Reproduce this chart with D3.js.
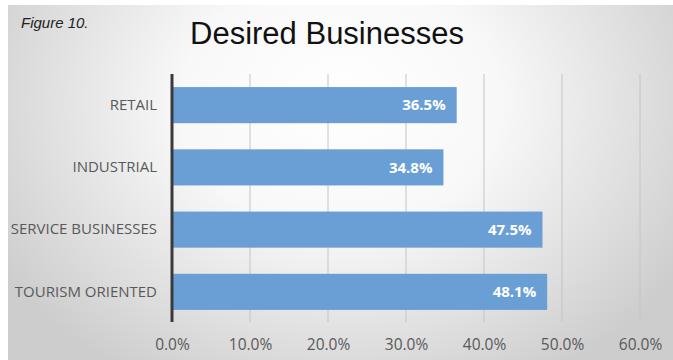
<!DOCTYPE html>
<html>
<head>
<meta charset="utf-8">
<script src="https://cdn.jsdelivr.net/npm/d3@7"></script>
<style>
  html, body { margin: 0; padding: 0; background: #fff; }
  svg { display: block; }
</style>
</head>
<body>
<svg id="chart" width="673" height="360"></svg>
<script>
// **** Data
const categories = ["RETAIL", "INDUSTRIAL", "SERVICE BUSINESSES", "TOURISM ORIENTED"];
const values = [36.5, 34.8, 47.5, 48.1];
const ticks = [0, 10, 20, 30, 40, 50, 60];

const width = 673;
const height = 360;
const svg = d3.select("#chart");

// **** Background gradient (white frame on left / top like the screenshot)
const defs = svg.append("defs");
const grad = defs.append("radialGradient")
  .attr("id", "bg")
  .attr("cx", "50%").attr("cy", "25%")
  .attr("r", "60%")
  .attr("gradientTransform", "translate(0,-0.1) scale(1,1.5)");
grad.append("stop").attr("offset", "0%").attr("stop-color", "#ffffff");
grad.append("stop").attr("offset", "40%").attr("stop-color", "#f8f8f8");
grad.append("stop").attr("offset", "100%").attr("stop-color", "#cdcdcd");

svg.append("rect")
  .attr("width", width).attr("height", height)
  .attr("fill", "#ffffff");
svg.append("rect")
  .attr("x", 8).attr("y", 5)
  .attr("width", width - 8).attr("height", height - 5)
  .attr("fill", "url(#bg)");

// **** Scales
const x = d3.scaleLinear().domain([0, 60]).range([172, 640]);
const y = d3.scaleBand()
  .domain(categories)
  .range([74, 323])
  .paddingInner(0.42)
  .paddingOuter(0.21);

// **** Gridlines
svg.append("g")
  .selectAll("line")
  .data(ticks.slice(1))
  .join("line")
  .attr("x1", d => x(d)).attr("x2", d => x(d))
  .attr("y1", 74).attr("y2", 322)
  .attr("stroke", "#c4c4c4")
  .attr("stroke-width", 1);

// **** Bars
svg.append("g")
  .selectAll("rect")
  .data(values)
  .join("rect")
  .attr("x", x(0))
  .attr("y", (d, i) => y(categories[i]))
  .attr("width", d => x(d) - x(0))
  .attr("height", y.bandwidth())
  .attr("fill", "#6a9fd6");

// **** Value labels
svg.append("g")
  .selectAll("text")
  .data(values)
  .join("text")
  .attr("x", d => x(d) - 11)
  .attr("y", (d, i) => y(categories[i]) + y.bandwidth() / 2)
  .attr("dy", "0.35em")
  .attr("text-anchor", "end")
  .attr("fill", "#ffffff")
  .attr("font-family", "'Open Sans', sans-serif")
  .attr("font-weight", "bold")
  .attr("font-size", 15)
  .text(d => d.toFixed(1) + "%");

// **** Category axis
const yAxis = svg.append("g")
  .attr("transform", `translate(${x(0)},0)`)
  .call(d3.axisLeft(y).tickSize(0).tickPadding(15));
yAxis.select(".domain").remove();
yAxis.selectAll("text")
  .attr("fill", "#595959")
  .attr("font-family", "'Open Sans', sans-serif")
  .attr("font-size", 15);

svg.append("line")
  .attr("x1", x(0)).attr("x2", x(0))
  .attr("y1", 74).attr("y2", 322)
  .attr("stroke", "#3a3a3a")
  .attr("stroke-width", 3);

// **** Value axis
const xAxis = svg.append("g")
  .attr("transform", "translate(0,345)")
  .call(d3.axisBottom(x).tickValues(ticks).tickSize(0).tickPadding(0)
    .tickFormat(d => d.toFixed(1) + "%"));
xAxis.select(".domain").remove();
xAxis.selectAll("text")
  .attr("dy", "0.35em")
  .attr("fill", "#595959")
  .attr("font-family", "'Open Sans', sans-serif")
  .attr("font-size", 15.5);

// **** Titles
svg.append("text")
  .attr("x", 21).attr("y", 28)
  .attr("font-family", "'Liberation Sans', Arial, sans-serif")
  .attr("font-style", "italic")
  .attr("font-size", 15)
  .attr("fill", "#222")
  .text("Figure 10.");

svg.append("text")
  .attr("x", 327).attr("y", 44)
  .attr("text-anchor", "middle")
  .attr("font-family", "'Liberation Sans', Arial, sans-serif")
  .attr("font-size", 31)
  .attr("fill", "#111")
  .text("Desired Businesses");
</script>
</body>
</html>
